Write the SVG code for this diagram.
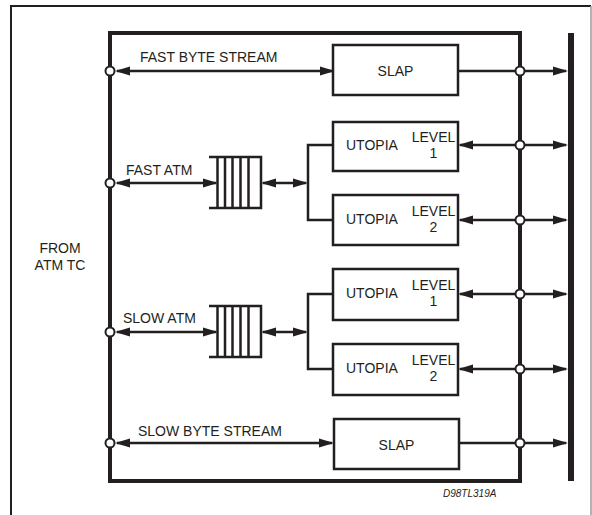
<svg xmlns="http://www.w3.org/2000/svg" width="592" height="515" viewBox="0 0 592 515">
<style>
.t{font-family:"Liberation Sans",Arial,sans-serif;font-size:14px;fill:#231f20}
.box{fill:#fff;stroke:#231f20;stroke-width:2.5}
.ln{fill:none;stroke:#231f20;stroke-width:2.5}
.ar{fill:none;stroke:#231f20;stroke-width:2.5;marker-end:url(#ah)}
.da{fill:none;stroke:#231f20;stroke-width:2.5;marker-start:url(#ah);marker-end:url(#ah)}
.dot{fill:#fff;stroke:#231f20;stroke-width:2}
</style>
<defs>
<marker id="ah" markerUnits="userSpaceOnUse" markerWidth="15" markerHeight="10" refX="13" refY="5" orient="auto-start-reverse">
<path d="M0,0.5 L15,5 L0,9.5 z" fill="#231f20"/>
</marker>
</defs>
<rect width="592" height="515" fill="#fff"/>
<g id="frame">
<path d="M11,515V6H591" fill="none" stroke="#231f20" stroke-width="2"/>
<line x1="591" y1="6" x2="591" y2="515" stroke="#9a9a9a" stroke-width="1.5"/>
</g>
<g id="main-box"><rect x="110" y="33" width="410" height="448" fill="none" stroke="#231f20" stroke-width="4"/></g>
<g id="bus"><rect x="568" y="33" width="6" height="448" fill="#231f20"/></g>
<g id="from-label"><text class="t" x="60" y="253" text-anchor="middle">FROM</text><text class="t" x="60" y="270" text-anchor="middle">ATM TC</text></g>

<g id="connectors">
<line class="da" x1="117" y1="71" x2="333" y2="71"/>
<line class="ln" x1="458" y1="71" x2="520" y2="71"/>
<line class="ar" x1="520" y1="71" x2="566" y2="71"/>
<line class="da" x1="117" y1="183" x2="216" y2="183"/>
<line class="da" x1="263" y1="183" x2="306" y2="183"/>
<polyline class="ln" points="333,145 308,145 308,220 333,220"/>
<line class="ar" x1="520" y1="145" x2="460" y2="145"/>
<line class="ar" x1="520" y1="145" x2="566" y2="145"/>
<line class="ar" x1="520" y1="220" x2="460" y2="220"/>
<line class="ar" x1="520" y1="220" x2="566" y2="220"/>
<line class="da" x1="117" y1="332" x2="216" y2="332"/>
<line class="da" x1="263" y1="332" x2="306" y2="332"/>
<polyline class="ln" points="333,294 308,294 308,369 333,369"/>
<line class="ar" x1="520" y1="294" x2="460" y2="294"/>
<line class="ar" x1="520" y1="294" x2="566" y2="294"/>
<line class="ar" x1="520" y1="369" x2="460" y2="369"/>
<line class="ar" x1="520" y1="369" x2="566" y2="369"/>
<line class="da" x1="117" y1="443" x2="332" y2="443"/>
<line class="ln" x1="459" y1="443" x2="520" y2="443"/>
<line class="ar" x1="520" y1="443" x2="566" y2="443"/>
<circle class="dot" cx="110" cy="71" r="4.5"/>
<circle class="dot" cx="110" cy="183" r="4.5"/>
<circle class="dot" cx="110" cy="332" r="4.5"/>
<circle class="dot" cx="110" cy="443" r="4.5"/>
<circle class="dot" cx="520" cy="71" r="4.5"/>
<circle class="dot" cx="520" cy="145" r="4.5"/>
<circle class="dot" cx="520" cy="220" r="4.5"/>
<circle class="dot" cx="520" cy="294" r="4.5"/>
<circle class="dot" cx="520" cy="369" r="4.5"/>
<circle class="dot" cx="520" cy="443" r="4.5"/>
</g>

<g id="labels">
<text class="t" x="140" y="62">FAST BYTE STREAM</text>
<text class="t" x="126" y="175">FAST ATM</text>
<text class="t" x="123" y="323">SLOW ATM</text>
<text class="t" x="138" y="436">SLOW BYTE STREAM</text>
</g>

<g id="slap-fast"><rect class="box" x="333" y="45" width="125" height="50"/><text class="t" x="395.5" y="76" text-anchor="middle">SLAP</text></g>
<g id="slap-slow"><rect class="box" x="334" y="419" width="125" height="50"/><text class="t" x="396.5" y="450" text-anchor="middle">SLAP</text></g>

<g id="utopia-fast-1"><rect class="box" x="333" y="122" width="125" height="49"/><text class="t" x="346" y="150">UTOPIA</text><text class="t" x="433.5" y="142" text-anchor="middle">LEVEL</text><text class="t" x="433.5" y="158" text-anchor="middle">1</text></g>
<g id="utopia-fast-2"><rect class="box" x="333" y="195" width="125" height="50"/><text class="t" x="346" y="224">UTOPIA</text><text class="t" x="433.5" y="216" text-anchor="middle">LEVEL</text><text class="t" x="433.5" y="232" text-anchor="middle">2</text></g>
<g id="utopia-slow-1"><rect class="box" x="333" y="269" width="125" height="51"/><text class="t" x="346" y="298">UTOPIA</text><text class="t" x="433.5" y="290" text-anchor="middle">LEVEL</text><text class="t" x="433.5" y="306" text-anchor="middle">1</text></g>
<g id="utopia-slow-2"><rect class="box" x="333" y="344" width="125" height="51"/><text class="t" x="346" y="373">UTOPIA</text><text class="t" x="433.5" y="365" text-anchor="middle">LEVEL</text><text class="t" x="433.5" y="381" text-anchor="middle">2</text></g>

<g id="fifo-fast">
<polyline class="ln" points="209,157 261,157 261,208 209,208"/>
<path class="ln" d="M217.5,157V208M225,157V208M232.5,157V208M240.5,157V208M248.5,157V208" stroke-width="2"/>
</g>
<g id="fifo-slow">
<polyline class="ln" points="209,306 261,306 261,357 209,357"/>
<path class="ln" d="M217.5,306V357M225,306V357M232.5,306V357M240.5,306V357M248.5,306V357" stroke-width="2"/>
</g>

<text x="443" y="497" font-family="Liberation Sans,Arial,sans-serif" font-size="10" font-style="italic" fill="#231f20">D98TL319A</text>
</svg>
